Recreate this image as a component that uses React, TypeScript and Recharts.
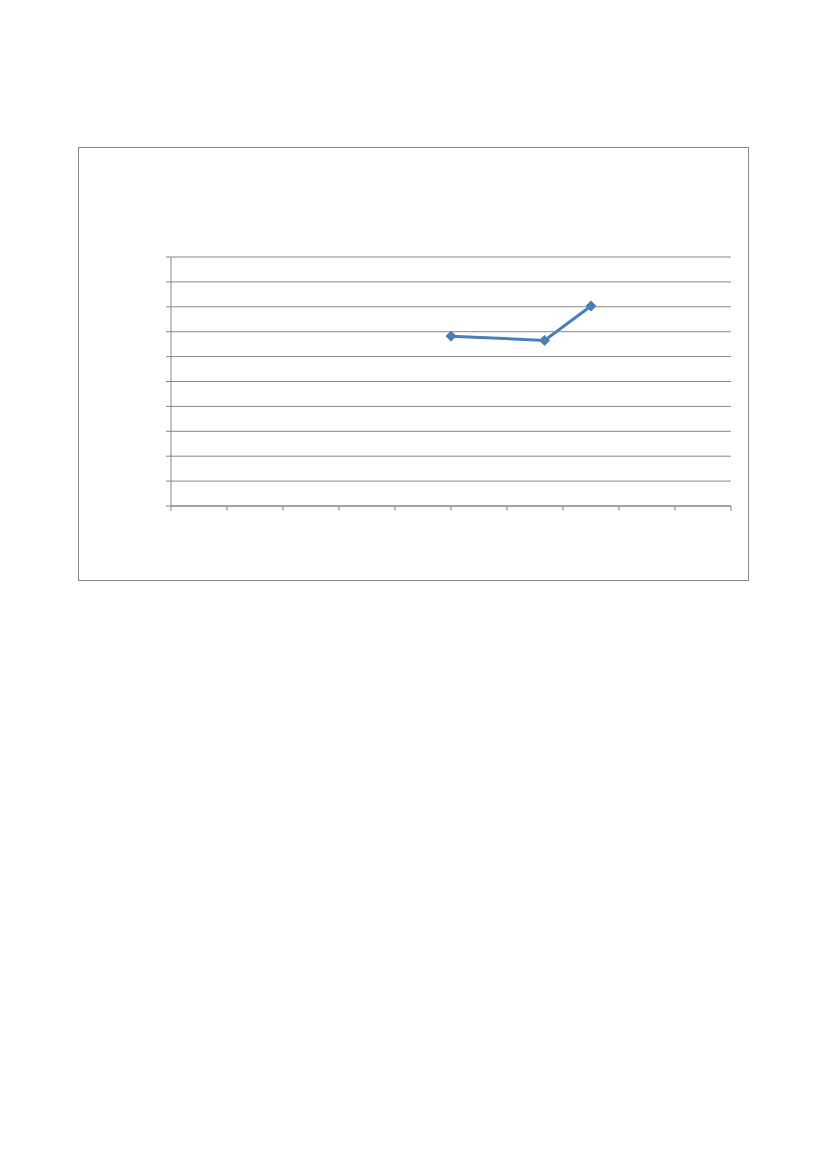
import React from 'react';
import { LineChart, Line, XAxis, YAxis, CartesianGrid } from 'recharts';

// values (no labels are shown in the original)
const xValues = [5, 6.67, 7.5];
const yValues = [6.82, 6.65, 8.03];
const xTicks = [0, 1, 2, 3, 4, 5, 6, 7, 8, 9, 10];
const yTicks = [0, 1, 2, 3, 4, 5, 6, 7, 8, 9, 10];

const data = xValues.map((x, i) => ({ x, y: yValues[i] }));

const gridColor = '#868686';
const lineColor = '#4a7ebb';

// the original shows tick marks but no tick labels
const NoLabel = () => <g />;

const Diamond = (props: any) => {
  const { cx, cy } = props;
  if (cx == null || cy == null) return null;
  const r = 5;
  return (
    <polygon
      points={`${cx},${cy - r} ${cx + r},${cy} ${cx},${cy + r} ${cx - r},${cy}`}
      fill={lineColor}
      stroke={lineColor}
      strokeWidth={1}
    />
  );
};

export default function App() {
  return (
    <div
      style={{
        marginLeft: 70,
        marginTop: 139,
        width: 671,
        height: 434,
        boxSizing: 'border-box',
        border: `1px solid ${gridColor}`,
        background: '#fff',
      }}
    >
      <LineChart
        width={669}
        height={432}
        data={data}
        margin={{ top: 109, right: 17, left: 0, bottom: 44 }}
      >
        <CartesianGrid vertical={false} stroke={gridColor} strokeWidth={1} />
        <XAxis
          dataKey="x"
          type="number"
          domain={[0, 10]}
          ticks={xTicks}
          tick={<NoLabel />}
          tickSize={5}
          height={30}
          axisLine={{ stroke: gridColor }}
          tickLine={{ stroke: gridColor }}
        />
        <YAxis
          type="number"
          domain={[0, 10]}
          ticks={yTicks}
          tick={<NoLabel />}
          tickSize={5}
          width={92}
          axisLine={{ stroke: gridColor }}
          tickLine={{ stroke: gridColor }}
        />
        <Line
          dataKey="y"
          stroke={lineColor}
          strokeWidth={3}
          dot={<Diamond />}
          activeDot={false}
          isAnimationActive={false}
        />
      </LineChart>
    </div>
  );
}
